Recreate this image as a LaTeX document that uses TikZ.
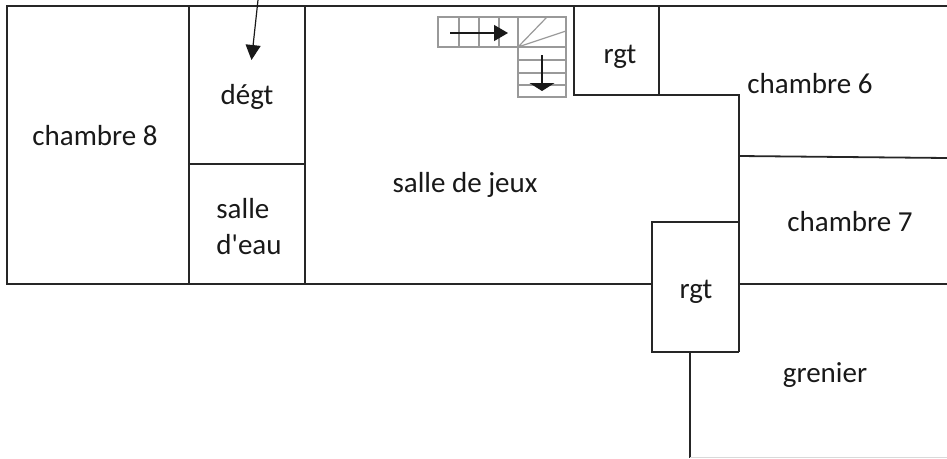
\documentclass[tikz,border=0pt]{standalone}
\usepackage{fontspec}
\setmainfont{Carlito}
\usetikzlibrary{arrows.meta}
\tikzset{
  wall/.style={line width=1.8pt, draw=black!85},
  stairline/.style={line width=1.2pt, draw=black!40},
  stairarrow/.style={line width=1.2pt, draw=black!90},
  roomlabel/.style={font=\fontsize{29}{36}\selectfont, text=black!90, inner sep=0pt, align=left},
}
\begin{document}
\begin{tikzpicture}[x=1pt,y=-1pt]
  \useasboundingbox (0,0) rectangle (947,458);

  % Outer walls
  \draw[wall] (947,6) -- (7,6) -- (7,284) -- (652,284);
  \draw[wall] (739,284) -- (947,284);

  % Left rooms
  \draw[wall] (189,6) -- (189,284);
  \draw[wall] (305,6) -- (305,284);
  \draw[wall] (189,164) -- (305,164);

  % Upper cupboard and the wall that follows it
  \draw[wall] (574,6) -- (574,95) -- (739,95) -- (739,352);
  \draw[wall] (659,6) -- (659,95);
  \draw[wall] (739,156) -- (947,158);

  % Lower cupboard
  \draw[wall] (739,222) -- (652,222) -- (652,352) -- (739,352);

  % Grenier
  \draw[wall] (690,352) -- (690,458);
  \draw[line width=0.6pt, draw=black!15] (690,457.5) -- (947,457.5);

  % Stairs
  \draw[stairline] (438,17) rectangle (566,47);
  \draw[stairline] (518,17) -- (518,97) -- (566,97) -- (566,47);
  \draw[stairline] (459,17) -- (459,47) (479,17) -- (479,47) (499,17) -- (499,47);
  \draw[stairline] (518,60) -- (566,60) (518,73) -- (566,73) (518,85) -- (566,85);
  \draw[stairline] (518,47) -- (547,17) (518,47) -- (566,31);

  % Arrows
  \coordinate (flightstart) at (450,33);
  \coordinate (flightend)   at (508,33);
  \coordinate (lowerstart)  at (542,55);
  \coordinate (lowerend)    at (542,91);
  \coordinate (entrystart)  at (258,0);
  \coordinate (entryend)    at (251.5,60);
  \draw[stairarrow, -{Triangle[length=14pt,width=16pt]}] (flightstart) -- (flightend);
  \draw[stairarrow, -{Triangle[length=8pt,width=25pt]}] (lowerstart) -- (lowerend);
  \draw[stairarrow, -{Triangle[length=15pt,width=15pt]}] (entrystart) -- (entryend);

  % Labels
  \node[roomlabel] (chambre8)  at (95,136)  {chambre 8};
  \node[roomlabel] (degt)      at (247,97)  {dégt};
  \node[roomlabel] (eau)       at (249,226.5) {salle\\d\textquotesingle eau};
  \node[roomlabel] (jeux)      at (465,185) {salle de jeux};
  \node[roomlabel] (rgttop)    at (620,57)  {rgt};
  \node[roomlabel] (chambre6)  at (810,84)  {chambre 6};
  \node[roomlabel] (chambre7)  at (850,222) {chambre 7};
  \node[roomlabel] (rgtlow)    at (696,292) {rgt};
  \node[roomlabel] (grenier)   at (825,375) {grenier};

\end{tikzpicture}
\end{document}
